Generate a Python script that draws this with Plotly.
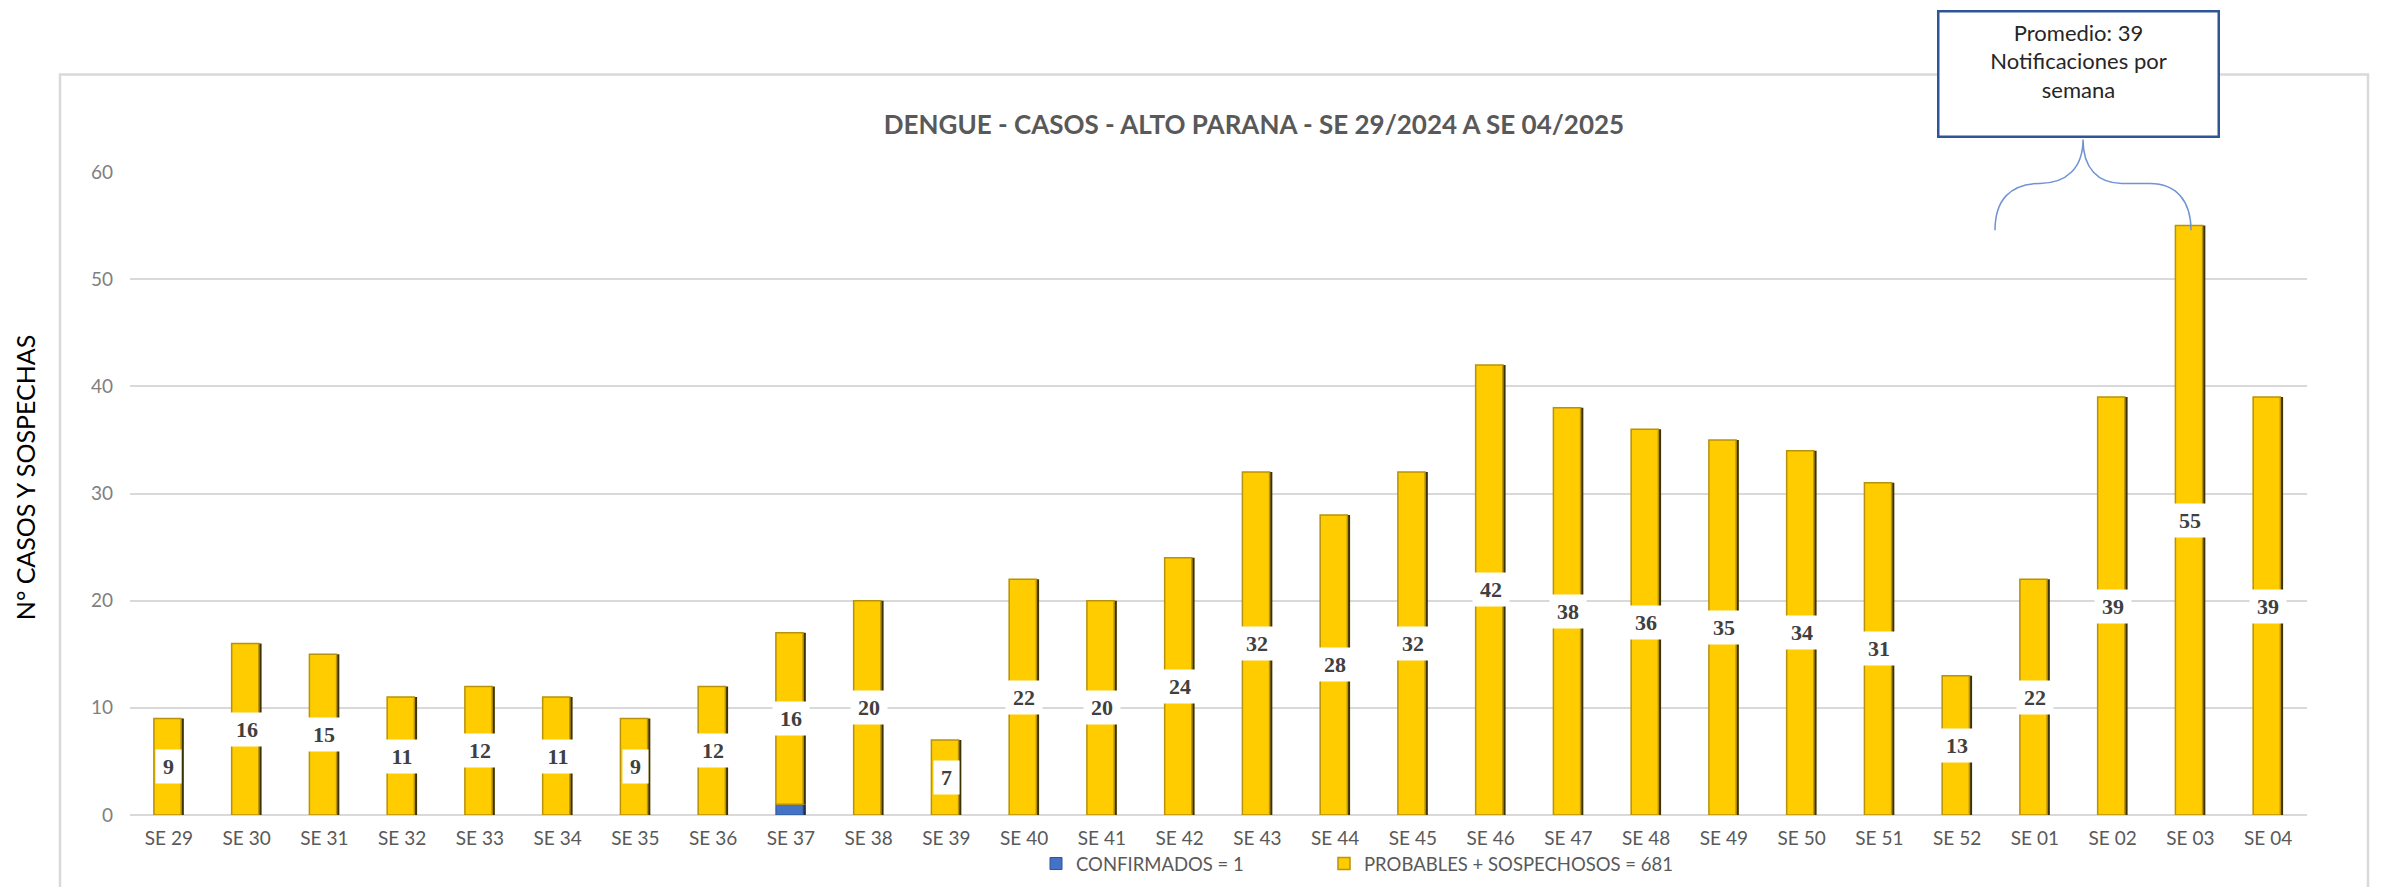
import plotly.graph_objects as go

categories = ["SE 29", "SE 30", "SE 31", "SE 32", "SE 33", "SE 34", "SE 35", "SE 36",
              "SE 37", "SE 38", "SE 39", "SE 40", "SE 41", "SE 42", "SE 43", "SE 44",
              "SE 45", "SE 46", "SE 47", "SE 48", "SE 49", "SE 50", "SE 51", "SE 52",
              "SE 01", "SE 02", "SE 03", "SE 04"]
probables = [9, 16, 15, 11, 12, 11, 9, 12, 16, 20, 7, 22, 20, 24, 32, 28, 32, 42,
             38, 36, 35, 34, 31, 13, 22, 39, 55, 39]
confirmados = [0, 0, 0, 0, 0, 0, 0, 0, 1, 0, 0, 0, 0, 0, 0, 0, 0, 0,
               0, 0, 0, 0, 0, 0, 0, 0, 0, 0]
y_ticks = [0, 10, 20, 30, 40, 50, 60]
legend_conf = "CONFIRMADOS = 1"
legend_prob = "PROBABLES + SOSPECHOSOS = 681"
title_text = "DENGUE - CASOS - ALTO PARANA - SE 29/2024 A SE 04/2025"
callout_text = "Promedio: 39<br>Notificaciones por<br>semana"
y_title = "N° CASOS Y SOSPECHAS"

W, H = 2381, 887
O = 8  # page body margin offset (screen = figure + O)
SL, SR, ST, SB = 130, 2307, 171.6, 815  # plot area in screen pixels


def px(x):
    return (x - SL) / (SR - SL)


def py(y):
    return (SB - y) / (SB - ST)


BW = 0.385
OFF = -0.1925

conf_plot = [v if v else None for v in confirmados]

fig = go.Figure()
fig.add_trace(go.Bar(x=categories, y=conf_plot, width=BW, offset=OFF,
                     marker=dict(color="#1F2D4A", line=dict(width=0)),
                     showlegend=False, hoverinfo="skip"))
fig.add_trace(go.Bar(x=categories, y=conf_plot, width=BW - 0.035, offset=OFF,
                     name=legend_conf, legend="legend",
                     marker=dict(color="#4472C4", line=dict(color="#2F5597", width=1))))
fig.add_trace(go.Bar(x=categories, y=probables, base=confirmados, width=BW, offset=OFF,
                     marker=dict(color="#3D3300", line=dict(width=0)),
                     showlegend=False, hoverinfo="skip"))
fig.add_trace(go.Bar(x=categories, y=probables, base=confirmados, width=BW - 0.035, offset=OFF,
                     name=legend_prob, legend="legend2",
                     marker=dict(color="#FFCC00", line=dict(color="#B8920A", width=1.5))))

annotations = []
for c, v, b in zip(categories, probables, confirmados):
    annotations.append(dict(
        x=c, y=b + v / 2, xref="x", yref="y", text=str(v), showarrow=False,
        font=dict(family="Liberation Serif", size=22, color="#404040", weight="bold"),
        bgcolor="white", width=11 * len(str(v)) + 8, height=27, borderpad=3))

annotations.append(dict(
    x=px(25), y=py(477), xref="paper", yref="paper", text=y_title, textangle=-90,
    showarrow=False, font=dict(family="Lato", size=25, color="#000000"),
    xanchor="center", yanchor="middle"))

annotations.append(dict(
    x=px(2078.5), y=py(9), xref="paper", yref="paper", text=callout_text,
    showarrow=False, xanchor="center", yanchor="top", valign="top",
    font=dict(family="Lato", size=22, color="#262626"),
    bgcolor="white", bordercolor="#2F5597", borderwidth=2.5,
    width=266, height=111, borderpad=6))

shapes = []
shapes.append(dict(type="rect", xref="paper", yref="paper",
                   x0=px(60), x1=px(2368), y0=py(910), y1=py(74),
                   line=dict(color="#D9D9D9", width=2.5), layer="below"))


def pt(x, y):
    return f"{px(x):.5f},{py(y):.5f}"


brace = ("M " + pt(1995, 230) +
         " C " + pt(1995, 200) + " " + pt(2010, 183) + " " + pt(2040, 183) +
         " C " + pt(2066, 183) + " " + pt(2083, 168) + " " + pt(2083, 139) +
         " C " + pt(2083, 168) + " " + pt(2098, 183) + " " + pt(2122, 183) +
         " L " + pt(2150, 183) +
         " C " + pt(2176, 183) + " " + pt(2191, 200) + " " + pt(2191, 230))
shapes.append(dict(type="path", xref="paper", yref="paper", path=brace,
                   line=dict(color="#6F93D3", width=1.5)))

legend_common = dict(orientation="h", xanchor="left", yanchor="middle",
                     yref="container", y=1 - (864 - O) / H,
                     font=dict(family="Lato", size=18.5, color="#595959"),
                     itemwidth=30, bgcolor="rgba(0,0,0,0)")

fig.update_layout(
    width=W, height=H,
    margin=dict(l=SL - O, r=W - (SR - O), t=ST - O, b=H - (SB - O), autoexpand=False),
    paper_bgcolor="white", plot_bgcolor="white",
    barmode="overlay",
    title=dict(text=title_text, x=px(1254), xanchor="center", xref="paper",
               y=1 - (124.5 - O) / H, yanchor="middle",
               font=dict(family="Lato", size=26, color="#595959", weight="bold")),
    xaxis=dict(type="category", showgrid=False, showline=False, ticks="",
               automargin=False,
               tickfont=dict(family="Lato", size=19, color="#595959"),
               ticklabelstandoff=10, range=[-0.5, len(categories) - 0.5]),
    yaxis=dict(range=[0, 60], tickvals=y_ticks, showgrid=True, gridcolor="#D9D9D9",
               automargin=False,
               gridwidth=2, zeroline=True, zerolinecolor="#D9D9D9", zerolinewidth=2,
               showline=False, ticks="",
               tickfont=dict(family="Lato", size=19, color="#7F7F7F"),
               ticklabelstandoff=16),
    legend=dict(x=px(1036), **legend_common),
    legend2=dict(x=px(1324), **legend_common),
    annotations=annotations,
    shapes=shapes,
    showlegend=True,
)

fig.write_html("out.html")
